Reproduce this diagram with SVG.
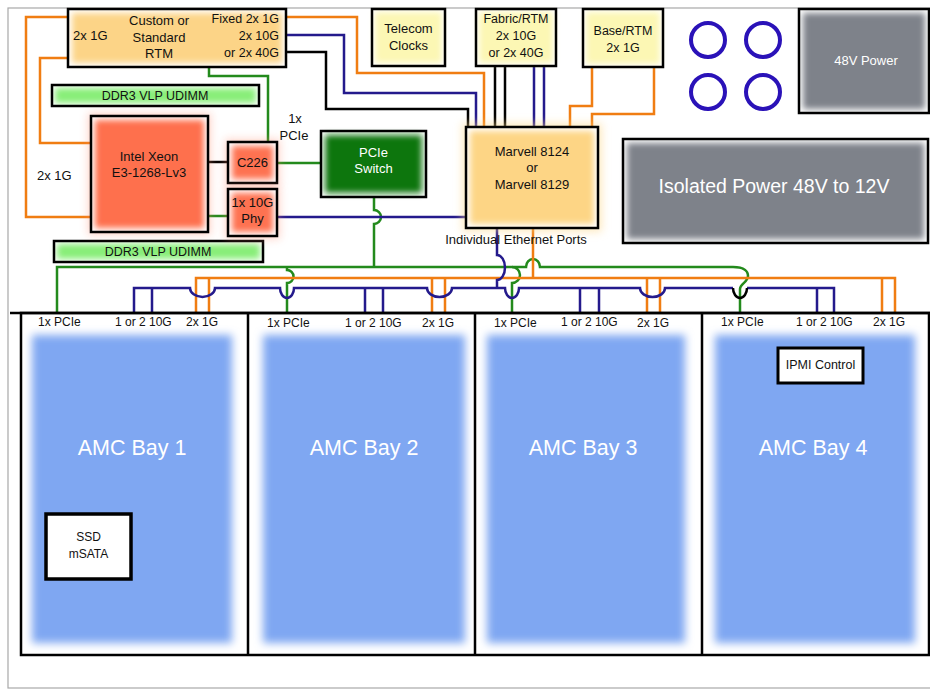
<svg xmlns="http://www.w3.org/2000/svg" width="930" height="689" viewBox="0 0 930 689">
<style>
text{font-family:"Liberation Sans",Arial,sans-serif;font-size:13px;fill:#111;}
.c{text-anchor:middle;}
.r{text-anchor:end;}
.w{fill:#fff;}
.sm{font-size:12px;}
.box{fill:none;stroke:#000;stroke-width:2.5;}
.bg{fill:#fff;}
.wire{fill:none;stroke-width:2.5;stroke-linejoin:miter;}
.or{stroke:#f07d12;}
.bl{stroke:#241a8c;}
.gr{stroke:#238a1c;}
.bk{stroke:#000;}
.soft{filter:url(#soft);}
.bay{fill:#7fa7f2;filter:url(#bayblur);}
.ring{fill:none;stroke:#2a12b8;stroke-width:4;}
.big{font-size:21.5px;}
</style>
<defs>
<filter id="soft" x="-20%" y="-20%" width="140%" height="140%"><feGaussianBlur stdDeviation="3"/></filter>
<filter id="bayblur" x="-10%" y="-10%" width="120%" height="120%"><feGaussianBlur stdDeviation="4"/></filter>
<filter id="glow" x="-30%" y="-30%" width="160%" height="160%"><feGaussianBlur stdDeviation="4"/></filter>
</defs>

<rect x="0" y="0" width="930" height="689" fill="#fff"/>
<rect x="8" y="8" width="940" height="680" fill="none" stroke="#a8a8a8" stroke-width="1.2"/>

<g id="connectors">
  <!-- green -->
  <path class="wire gr" d="M57,313 V267 H526 A7,8 0 0 1 540,267 H733 C745,267 748,272 748,276 C748,282 740,284 740,289 V313"/>
  <path class="wire gr" d="M287,267 V270 A6.5,6.5 0 0 1 287,283 V313"/>
  <path class="wire gr" d="M512,267 A8,8 0 0 1 512,283 V313"/>
  <path class="wire gr" d="M374,197 V210 A7,7 0 0 1 374,224 V267"/>
  <path class="wire gr" d="M277,163 H321"/>
  <path class="wire gr" d="M209,67 V76 H268 V142"/>
  <path class="wire gr" d="M208,216 H228"/>
  <!-- orange -->
  <path class="wire or" d="M196,313 V278 H895 V313"/>
  <path class="wire or" d="M209,278 V313 M432,278 V313 M445,278 V313 M647,278 V313 M660,278 V313 M882,278 V313"/>
  <path class="wire or" d="M533,228 V278"/>
  <path class="wire or" d="M286,17 H357 V73 H484 V127"/>
  <path class="wire or" d="M68,17 H26 V217 H91"/>
  <path class="wire or" d="M68,58 H40 V143 H91"/>
  <path class="wire or" d="M592,67 V106 H570 V127"/>
  <path class="wire or" d="M654,67 V114 H592 V127"/>
  <!-- blue -->
  <path class="wire bl" d="M134,313 V288 H190 A12.5,9 0 0 0 215,288 H280 A7,10 0 0 0 294,288 H427 A12.5,9 0 0 0 452,288 H505 A7,10 0 0 0 519,288 H640 A12.5,9 0 0 0 665,288 H733 M747,288 H834 V313"/>
  <path class="wire bl" d="M152,288 V313 M365,288 V313 M383,288 V313 M580,288 V313 M599,288 V313 M817,288 V313"/>
  <path class="wire bl" d="M497,228 V255 A8,12.5 0 0 1 497,280 V288"/>
  <path class="wire bl" d="M277,217 H466"/>
  <path class="wire bl" d="M286,35 H344 V93 H476 V127"/>
  <path class="wire bl" d="M534,66 V127 M544,66 V127"/>
  <!-- black -->
  <path class="wire bk" d="M733,288 A7,10 0 0 0 747,288"/>
  <path class="wire bk" d="M286,52 H326 V109 H468 V127"/>
  <path class="wire bk" d="M495,66 V127 M505,66 V127"/>
  <path class="wire bk" d="M208,162 H228"/>
</g>

<g id="rtm">
  <rect class="bg" x="68" y="9" width="218" height="58"/>
  <rect class="soft" x="72" y="13" width="210" height="50" fill="#fcd487"/>
  <rect class="box" x="68" y="9" width="218" height="58"/>
  <text x="73" y="40">2x 1G</text>
  <text class="c" x="159" y="25">Custom or</text>
  <text class="c" x="159" y="42">Standard</text>
  <text class="c" x="159" y="58">RTM</text>
  <text class="r" x="279" y="23" style="font-size:12.5px">Fixed 2x 1G</text>
  <text class="r" x="279" y="40" style="font-size:12.5px">2x 10G</text>
  <text class="r" x="279" y="57" style="font-size:12.5px">or 2x 40G</text>
</g>

<g id="ddr3-top">
  <rect class="bg" x="52" y="85" width="207" height="21"/>
  <rect class="soft" x="55" y="88" width="201" height="15" fill="#88ee78"/>
  <rect class="box" x="52" y="85" width="207" height="21"/>
  <text class="c" x="155" y="100" style="font-size:12.5px">DDR3 VLP UDIMM</text>
</g>

<g id="ddr3-bottom">
  <rect class="bg" x="54" y="241" width="209" height="21"/>
  <rect class="soft" x="57" y="244" width="203" height="15" fill="#88ee78"/>
  <rect class="box" x="54" y="241" width="209" height="21"/>
  <text class="c" x="158" y="256" style="font-size:12.5px">DDR3 VLP UDIMM</text>
</g>

<g id="label-2x1g">
  <text x="37" y="180">2x 1G</text>
</g>
<g id="label-pcie">
  <text class="c" x="295" y="123">1x</text>
  <text class="c" x="294" y="140">PCIe</text>
</g>

<g id="xeon">
  <rect x="88" y="113" width="123" height="122" fill="#ff8a70" opacity="0.35" filter="url(#glow)"/>
  <rect class="bg" x="91" y="116" width="117" height="116"/>
  <rect class="soft" x="95" y="120" width="109" height="108" fill="#fe6f4e"/>
  <rect class="box" x="91" y="116" width="117" height="116"/>
  <text class="c" x="149" y="161">Intel Xeon</text>
  <text class="c" x="149" y="177">E3-1268-Lv3</text>
</g>

<g id="c226">
  <rect x="225" y="139" width="55" height="47" fill="#ff8a70" opacity="0.35" filter="url(#glow)"/>
  <rect class="bg" x="228" y="142" width="49" height="41"/>
  <rect class="soft" x="232" y="146" width="41" height="33" fill="#fe7251"/>
  <rect class="box" x="228" y="142" width="49" height="41"/>
  <text class="c" x="252.5" y="167">C226</text>
</g>

<g id="phy">
  <rect x="225" y="186" width="55" height="53" fill="#ff8a70" opacity="0.35" filter="url(#glow)"/>
  <rect class="bg" x="228" y="189" width="49" height="47"/>
  <rect class="soft" x="232" y="193" width="41" height="39" fill="#fe7251"/>
  <rect class="box" x="228" y="189" width="49" height="47"/>
  <text class="c" x="252.5" y="207">1x 10G</text>
  <text class="c" x="252.5" y="223">Phy</text>
</g>

<g id="pcie-switch">
  <rect class="bg" x="321" y="131" width="105" height="66"/>
  <rect class="soft" x="325" y="135" width="97" height="58" fill="#0c760c"/>
  <rect class="box" x="321" y="131" width="105" height="66"/>
  <text class="c w" x="373.5" y="157">PCIe</text>
  <text class="c w" x="373.5" y="173">Switch</text>
</g>

<g id="telecom">
  <rect class="bg" x="372" y="9" width="73" height="57"/>
  <rect class="soft" x="375" y="12" width="67" height="51" fill="#fcf7b4"/>
  <rect class="box" x="372" y="9" width="73" height="57"/>
  <text class="c" x="408.5" y="33">Telecom</text>
  <text class="c" x="408.5" y="50">Clocks</text>
</g>

<g id="fabric">
  <rect class="bg" x="476" y="9" width="80" height="57"/>
  <rect class="soft" x="479" y="12" width="74" height="51" fill="#fcf7b4"/>
  <rect class="box" x="476" y="9" width="80" height="57"/>
  <text class="c" x="516" y="23" style="font-size:12.5px">Fabric/RTM</text>
  <text class="c" x="516" y="40" style="font-size:12.5px">2x 10G</text>
  <text class="c" x="516" y="57" style="font-size:12.5px">or 2x 40G</text>
</g>

<g id="base">
  <rect class="bg" x="583" y="9" width="80" height="58"/>
  <rect class="soft" x="586" y="12" width="74" height="52" fill="#fcf7b4"/>
  <rect class="box" x="583" y="9" width="80" height="58"/>
  <text class="c" x="623" y="35" style="font-size:12.5px">Base/RTM</text>
  <text class="c" x="623" y="52" style="font-size:12.5px">2x 1G</text>
</g>

<g id="marvell">
  <rect x="462" y="123" width="140" height="109" fill="#fdd88a" opacity="0.5" filter="url(#glow)"/>
  <rect class="bg" x="466" y="127" width="132" height="101"/>
  <rect class="soft" x="470" y="131" width="124" height="93" fill="#fdd585"/>
  <rect class="box" x="466" y="127" width="132" height="101"/>
  <text class="c" x="532" y="156">Marvell 8124</text>
  <text class="c" x="532" y="172">or</text>
  <text class="c" x="532" y="189">Marvell 8129</text>
</g>
<g id="label-ports">
  <text class="c" x="516" y="244">Individual Ethernet Ports</text>
</g>

<g id="rings">
  <circle class="ring" cx="708" cy="40" r="17"/>
  <circle class="ring" cx="763" cy="40" r="17"/>
  <circle class="ring" cx="708" cy="92" r="17"/>
  <circle class="ring" cx="763" cy="92" r="17"/>
</g>

<g id="power48">
  <rect class="bg" x="799" y="9" width="130" height="104"/>
  <rect class="soft" x="803" y="13" width="122" height="96" fill="#7e828a"/>
  <rect class="box" x="799" y="9" width="130" height="104"/>
  <text class="c w" x="866" y="65">48V Power</text>
</g>

<g id="isolated-power">
  <rect class="bg" x="623" y="139" width="305" height="104"/>
  <rect class="soft" x="627" y="143" width="297" height="96" fill="#7e828a"/>
  <rect class="box" x="623" y="139" width="305" height="104"/>
  <text class="c w" x="774" y="193" style="font-size:19.5px">Isolated Power 48V to 12V</text>
</g>

<g id="amc-frame">
  <line x1="10" y1="313" x2="930" y2="313" stroke="#000" stroke-width="2.5"/>
  <rect class="box" x="21" y="313" width="908" height="342"/>
  <line x1="248" y1="313" x2="248" y2="655" stroke="#000" stroke-width="2.5"/>
  <line x1="475" y1="313" x2="475" y2="655" stroke="#000" stroke-width="2.5"/>
  <line x1="702" y1="313" x2="702" y2="655" stroke="#000" stroke-width="2.5"/>
</g>

<g id="amc-bay-1">
  <rect class="bay" x="32" y="335" width="200" height="308"/>
  <text class="sm" x="38" y="326">1x PCIe</text>
  <text class="sm" x="115" y="326">1 or 2 10G</text>
  <text class="sm" x="186" y="326">2x 1G</text>
  <text class="c w big" x="132" y="455">AMC Bay 1</text>
</g>
<g id="ssd">
  <rect x="46" y="514" width="85" height="65" fill="#fff" stroke="#000" stroke-width="3.5"/>
  <text class="c sm" x="88.5" y="541">SSD</text>
  <text class="c sm" x="88.5" y="558">mSATA</text>
</g>

<g id="amc-bay-2">
  <rect class="bay" x="263" y="335" width="202" height="308"/>
  <text class="sm" x="267" y="327">1x PCIe</text>
  <text class="sm" x="345" y="327">1 or 2 10G</text>
  <text class="sm" x="422" y="327">2x 1G</text>
  <text class="c w big" x="364" y="455">AMC Bay 2</text>
</g>

<g id="amc-bay-3">
  <rect class="bay" x="487" y="335" width="198" height="308"/>
  <text class="sm" x="494" y="327">1x PCIe</text>
  <text class="sm" x="561" y="326">1 or 2 10G</text>
  <text class="sm" x="637" y="327">2x 1G</text>
  <text class="c w big" x="583" y="455">AMC Bay 3</text>
</g>

<g id="amc-bay-4">
  <rect class="bay" x="715" y="335" width="200" height="308"/>
  <text class="sm" x="721" y="326">1x PCIe</text>
  <text class="sm" x="796" y="326">1 or 2 10G</text>
  <text class="sm" x="873" y="326">2x 1G</text>
  <text class="c w big" x="813" y="455">AMC Bay 4</text>
</g>
<g id="ipmi">
  <rect x="778" y="348" width="85" height="35" fill="#fff" stroke="#000" stroke-width="3"/>
  <text class="c" x="820.5" y="369" style="font-size:12.5px">IPMI Control</text>
</g>
</svg>
